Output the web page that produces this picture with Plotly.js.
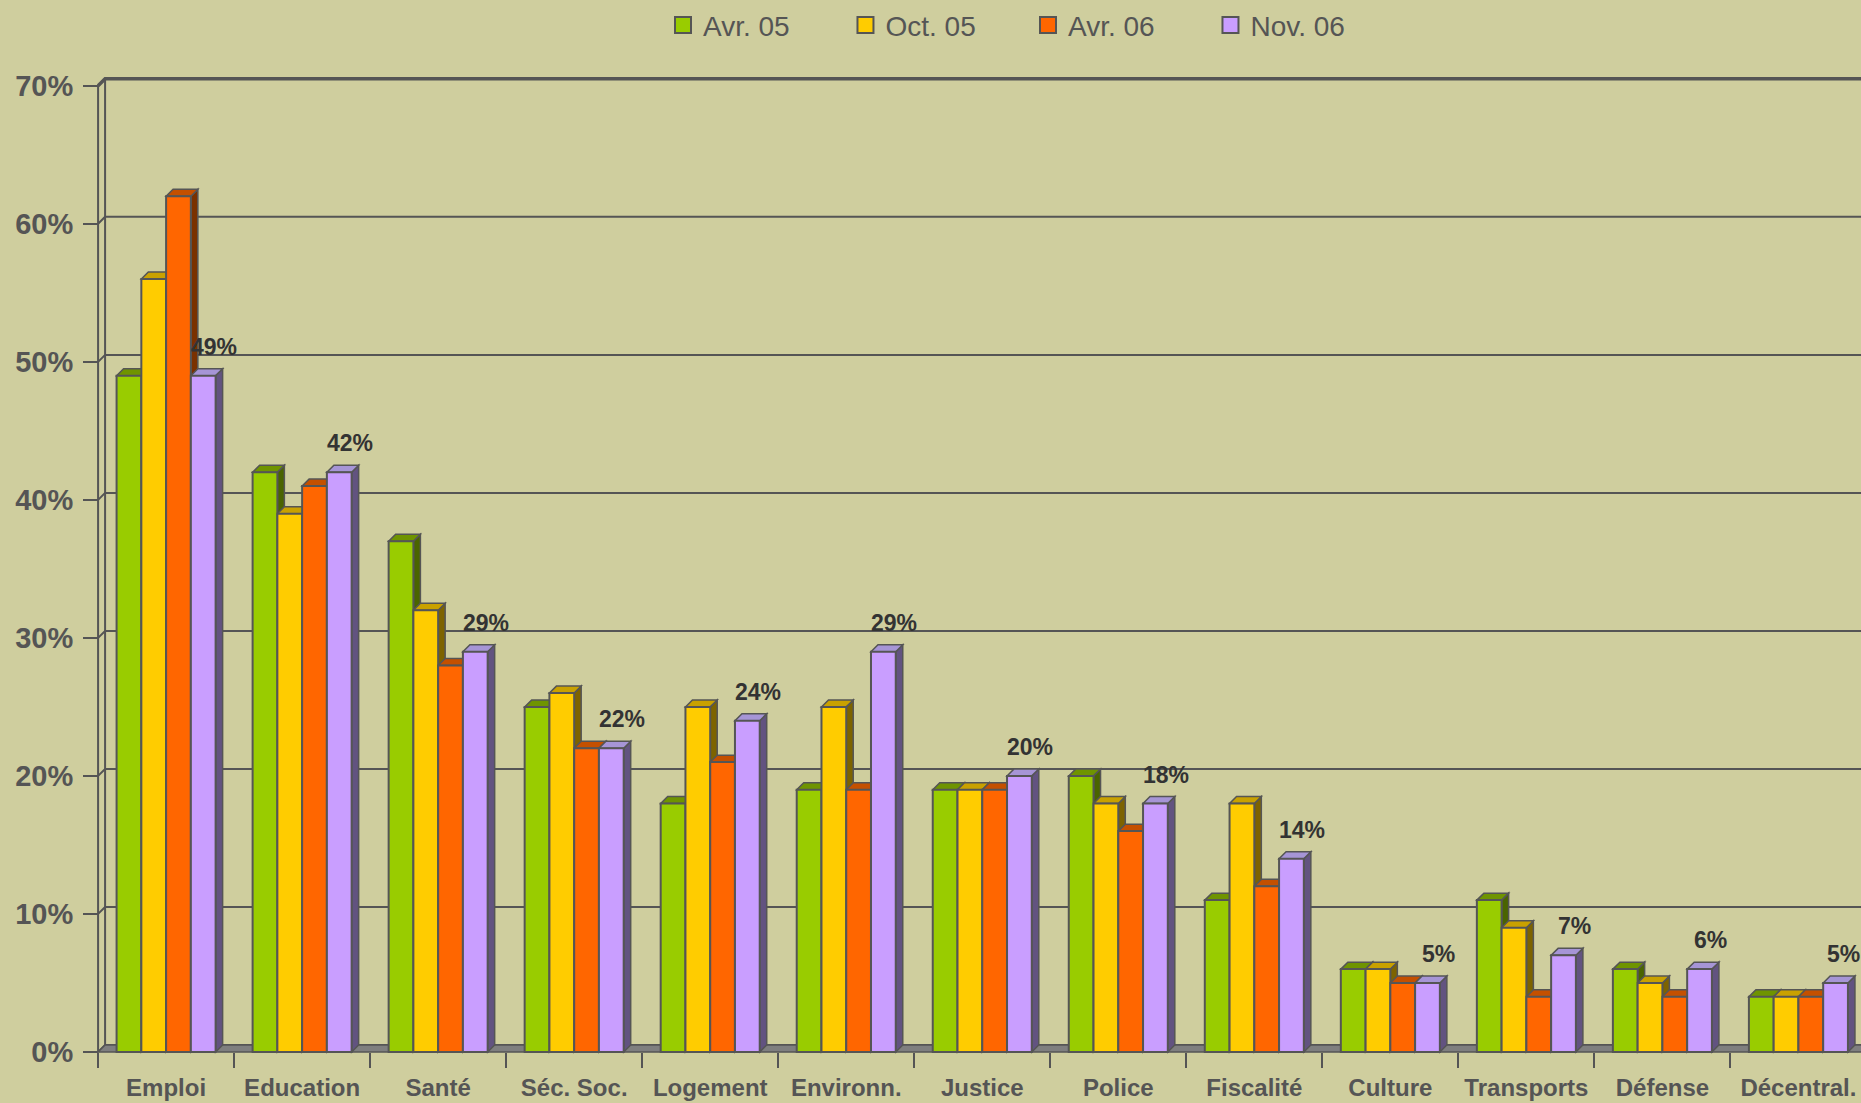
<!DOCTYPE html>
<html>
<head>
<meta charset="utf-8">
<script src="https://cdn.plot.ly/plotly-3.0.1.min.js"></script>
<style>html,body{margin:0;padding:0;background:#cfce9e;}#chart{width:1861px;height:1103px;}</style>
</head>
<body>
<div id="chart"></div>
<script>
// ---- data ----
const categories = ['Emploi','Education','Santé','Séc. Soc.','Logement','Environn.','Justice','Police','Fiscalité','Culture','Transports','Défense','Décentral.'];
const seriesNames = ['Avr. 05','Oct. 05','Avr. 06','Nov. 06'];
const avr05 = [49,42,37,25,18,19,19,20,11,6,11,6,4];
const oct05 = [56,39,32,26,25,25,19,18,18,6,9,5,4];
const avr06 = [62,41,28,22,21,19,19,16,12,5,4,4,4];
const nov06 = [49,42,29,22,24,29,20,18,14,5,7,6,5];
const yTickVals = [0,10,20,30,40,50,60,70];
const yTickText = ['0%','10%','20%','30%','40%','50%','60%','70%'];
const labelSeries = nov06; // values printed above the last series

// ---- style ----
const W = 1861, H = 1103;
const BG = '#cfce9e';
const INK = '#555555';
const frontColors = ['#99cc00','#ffcc00','#ff6600','#c99eff'];
const topColors   = ['#6f9400','#c9a100','#c45000','#a695d6'];
const sideColors  = ['#4a6400','#7d6300','#7a3100','#625380'];
const margin = {l:94, r:0, t:66, b:49};
const xRange = [-0.53, 12.46];
const yRange = [-0.15, 71.0];
const plotW = W - margin.l - margin.r, plotH = H - margin.t - margin.b;
const catPx = plotW / (xRange[1]-xRange[0]);
const unitPx = plotH / (yRange[1]-yRange[0]);
const depthX = 7, depthY = 7;
const dxu = depthX / catPx, dyu = depthY / unitPx;
const bargap = 0.272;
const barW = (1 - bargap) / 4;
const labelFontSize = 23;

const allSeries = [avr05, oct05, avr06, nov06];

const traces = allSeries.map((vals, s) => ({
  type: 'bar', x: categories, y: vals, name: seriesNames[s], showlegend: false,
  marker: {color: frontColors[s], line: {color: INK, width: 2}},
  hoverinfo: 'x+y'
}));
// legend entries
seriesNames.forEach((n, s) => traces.push({
  type: 'scatter', mode: 'markers', x: [null], y: [null], name: n, showlegend: true,
  marker: {symbol: 'square', size: 16, color: frontColors[s], line: {color: INK, width: 2}}
}));

const shapes = [];
const xMaxShape = 13.5;
// back-wall gridlines with their diagonal from the front axis
yTickVals.forEach(t => {
  shapes.push({type: 'path', layer: 'below', xref: 'x', yref: 'y',
    path: `M${-0.5},${t} L${-0.5+dxu},${t+dyu} L${xMaxShape},${t+dyu}`,
    line: {color: INK, width: t === yTickVals[yTickVals.length-1] ? 3.5 : 2}});
});
// back wall vertical edge
shapes.push({type: 'path', layer: 'below', xref: 'x', yref: 'y',
  path: `M${-0.5+dxu},${dyu} L${-0.5+dxu},${yTickVals[yTickVals.length-1]+dyu}`,
  line: {color: INK, width: 2}});
// front axis line
shapes.push({type: 'line', layer: 'below', xref: 'x', yref: 'y',
  x0: -0.5, x1: -0.5, y0: 0, y1: yTickVals[yTickVals.length-1],
  line: {color: INK, width: 2}});
// floor
shapes.push({type: 'path', layer: 'below', xref: 'x', yref: 'y',
  path: `M${-0.5},0 L${xMaxShape},0 L${xMaxShape},${dyu} L${-0.5+dxu},${dyu} Z`,
  fillcolor: '#7f7f7f', line: {color: INK, width: 1.5}});
// 3D faces of each bar (drawn below the bars so the neighbour hides them)
categories.forEach((c, i) => {
  allSeries.forEach((vals, s) => {
    const v = vals[i];
    const xc = i + (s - 1.5) * barW;
    const xl = xc - barW/2, xr = xc + barW/2;
    shapes.push({type: 'path', layer: 'below', xref: 'x', yref: 'y',
      path: `M${xr},${v} L${xr+dxu},${v+dyu} L${xr+dxu},${dyu} L${xr},0 Z`,
      fillcolor: sideColors[s], line: {color: INK, width: 1.5}});
    shapes.push({type: 'path', layer: 'below', xref: 'x', yref: 'y',
      path: `M${xl},${v} L${xr},${v} L${xr+dxu},${v+dyu} L${xl+dxu},${v+dyu} Z`,
      fillcolor: topColors[s], line: {color: INK, width: 1.5}});
  });
});

const annotations = labelSeries.map((v, i) => {
  const x = i + 1.5 * barW;
  const txt = v + '%';
  const px = margin.l + (x - xRange[0]) * catPx;
  const halfW = (String(v).length * 0.556 + 0.889) * labelFontSize / 2;
  let xs = 11;
  if (px + xs + halfW > W - 1) xs = W - 1 - halfW - px;
  return {
    x: x, y: v, xref: 'x', yref: 'y', text: txt, showarrow: false,
    xanchor: 'center', yanchor: 'middle', xshift: xs, yshift: 29,
    font: {family: 'Liberation Sans, Arial, sans-serif', size: labelFontSize, weight: 700, color: '#333333'}
  };
});

const layout = {
  width: W, height: H, margin: margin,
  paper_bgcolor: BG, plot_bgcolor: BG,
  barmode: 'group', bargap: bargap, bargroupgap: 0,
  showlegend: true,
  legend: {orientation: 'h', x: 0.322, xanchor: 'left', y: 1.0475, yanchor: 'middle',
    font: {family: 'Liberation Sans, Arial, sans-serif', size: 28, color: INK},
    bgcolor: 'rgba(0,0,0,0)', entrywidth: 137.5, entrywidthmode: 'pixels', itemclick: false},
  xaxis: {type: 'category', range: xRange, showgrid: false, zeroline: false, showline: false,
    tickson: 'boundaries', ticks: 'outside', ticklen: 15, tickwidth: 2, tickcolor: INK,
    anchor: 'free', position: 0.002, ticklabelstandoff: 19,
    tickfont: {family: 'Liberation Sans, Arial, sans-serif', size: 24, weight: 700, color: INK},
    fixedrange: true},
  yaxis: {range: yRange, showgrid: false, zeroline: false, showline: false,
    tickmode: 'array', tickvals: yTickVals, ticktext: yTickText,
    ticks: 'outside', ticklen: 15, tickwidth: 2, tickcolor: INK,
    anchor: 'free', position: 4/plotW, ticklabelstandoff: 4,
    tickfont: {family: 'Liberation Sans, Arial, sans-serif', size: 29, weight: 700, color: INK},
    fixedrange: true},
  shapes: shapes,
  annotations: annotations
};

Plotly.newPlot('chart', traces, layout, {displayModeBar: false, staticPlot: true});
</script>
</body>
</html>
